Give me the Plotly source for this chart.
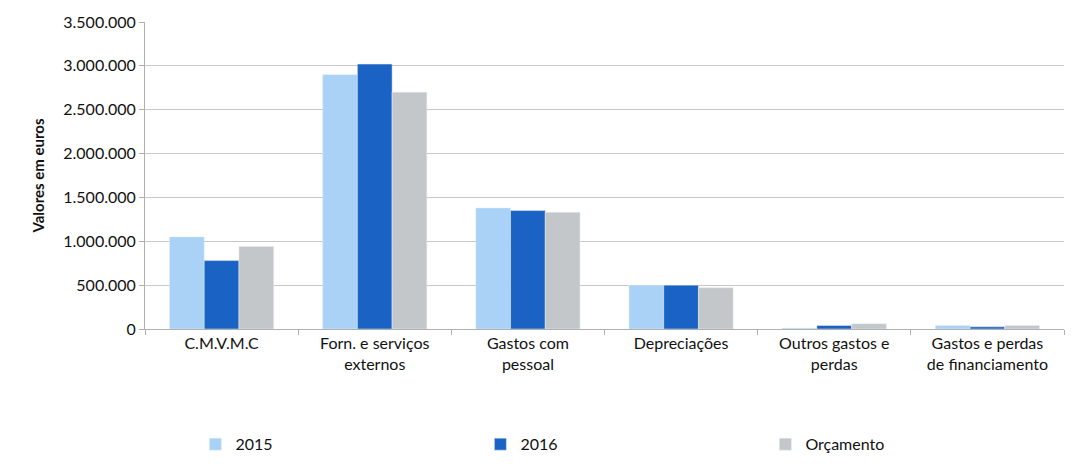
import plotly.graph_objects as go

categories = ["C.M.V.M.C", "Forn. e serviços<br>externos", "Gastos com<br>pessoal",
              "Depreciações", "Outros gastos e<br>perdas", "Gastos e perdas<br>de financiamento"]
v2015 = [1050000, 2900000, 1380000, 500000, 10000, 40000]
v2016 = [780000, 3020000, 1350000, 500000, 40000, 25000]
orcamento = [940000, 2700000, 1330000, 470000, 60000, 40000]
yticks = [0, 500000, 1000000, 1500000, 2000000, 2500000, 3000000, 3500000]

fig = go.Figure()
fig.add_trace(go.Bar(name="2015", x=categories, y=v2015, marker_color="#a9d2f6"))
fig.add_trace(go.Bar(name="2016", x=categories, y=v2016, marker_color="#1a62c4"))
fig.add_trace(go.Bar(name="Orçamento", x=categories, y=orcamento, marker_color="#c3c7ca"))

fig.update_layout(
    width=1074, height=471,
    margin=dict(l=145, r=10, t=22, b=128),
    paper_bgcolor="white", plot_bgcolor="white",
    separators=",.",
    barmode="group", bargap=0.32, bargroupgap=0,
    font=dict(family="Lato, Open Sans, sans-serif", size=16, color="#111"),
    legend=dict(orientation="h", x=0.52, xanchor="center", y=-0.32, yanchor="top",
                font=dict(size=16), itemwidth=30, traceorder="normal",
                entrywidth=240),
    showlegend=True,
)
fig.update_yaxes(range=[0, 3500000], tickvals=yticks, tickformat=",d",
                 showgrid=True, gridcolor="#c8c8c8", showline=True, linecolor="#b0b0b0",
                 ticks="outside", tickcolor="#b0b0b0", ticklen=5,
                 title=dict(text="<b>Valores em euros</b>", font=dict(size=15)),
                 tickfont=dict(size=16))
fig.update_xaxes(showline=True, linecolor="#b0b0b0", ticks="outside", tickcolor="#b0b0b0",
                 tickson="boundaries", ticklen=5, tickfont=dict(size=16))

fig.write_html("out.html")
